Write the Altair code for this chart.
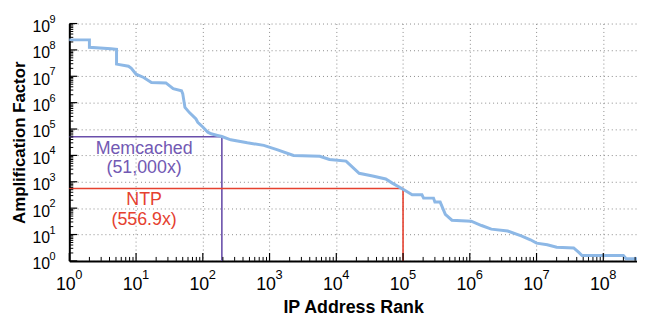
import altair as alt
import pandas as pd

# ---- data ----
rank = [1, 2.0, 2.0, 4.2, 5.1, 5.1, 7.7, 8.5, 10, 13, 17, 28, 36, 48, 50, 54, 63, 79,
        84, 100, 119, 133, 166, 193, 262, 464, 820, 1290, 2285, 5660, 7900, 14000,
        22000, 35000, 55000, 69000, 103000, 137000, 192000, 203000, 286000, 300000,
        360000, 430000, 540000, 1050000, 1500000, 2100000, 3700000, 5900000, 8100000,
        10000000, 14500000, 20000000, 36000000, 43000000, 48000000, 200000000,
        220000000, 320000000]
amp = [2.4e8, 2.4e8, 1.26e8, 1.1e8, 1.05e8, 2.9e7, 2.4e7, 2.0e7, 1.2e7, 9e6, 5.8e6,
       5.6e6, 3.4e6, 2.8e6, 2.2e6, 6.6e5, 4.2e5, 2.4e5, 1.8e5, 1.2e5, 7.6e4, 6.6e4,
       5.7e4, 5.2e4, 3.9e4, 3.0e4, 2.4e4, 1.66e4, 1.0e4, 9.3e3, 7.0e3, 6.1e3, 2.1e3,
       1.66e3, 1.28e3, 8.9e2, 5.0e2, 3.2e2, 3.2e2, 2.4e2, 2.4e2, 1.7e2, 1.7e2, 58,
       35, 32, 22, 16, 13.6, 8.9, 6.3, 4.7, 4.1, 3.3, 3.1, 2.1, 1.6, 1.6, 1.2, 1.2]

mem_x = [1, 193, 193]
mem_y = [51000, 51000, 1]
ntp_x = [1, 100000, 100000]
ntp_y = [556.9, 556.9, 1]

notes_text = ["Memcached\n(51,000x)", "NTP\n(556.9x)"]
notes_x = [13.2, 13.2]
notes_y = [51000, 556.9]
notes_color = ["#7259b3", "#e5412f"]

x_decades = [1, 10, 100, 1e3, 1e4, 1e5, 1e6, 1e7, 1e8]
x_exps = ["0", "1", "2", "3", "4", "5", "6", "7", "8"]
y_decades = [1, 10, 100, 1e3, 1e4, 1e5, 1e6, 1e7, 1e8, 1e9]
y_exps = ["0", "1", "2", "3", "4", "5", "6", "7", "8", "9"]
x_minor = [m * 10 ** k for k in range(0, 9) for m in range(2, 10) if m * 10 ** k <= 3.2e8]
y_minor = [m * 10 ** k for k in range(0, 9) for m in range(2, 10)]

W, H = 574, 240
FONT = "Liberation Sans"

xs = alt.Scale(type="log", domain=[1, 3.2e8], nice=False)
ys = alt.Scale(type="log", domain=[1, 1e9], nice=False)

curve = pd.DataFrame({"x": rank, "y": amp, "o": range(len(rank))})
mem = pd.DataFrame({"x": mem_x, "y": mem_y, "o": range(3)})
ntp = pd.DataFrame({"x": ntp_x, "y": ntp_y, "o": range(3)})
notes = pd.DataFrame({"x": notes_x, "y": notes_y, "t": notes_text, "c": notes_color})

x_axis = alt.Axis(values=x_decades, labelExpr="'10'", grid=True, gridDash=[1, 3],
                  gridColor="#8a8a8a", gridWidth=1, ticks=False, domainColor="black",
                  domainWidth=2, labelFontSize=18, labelFont=FONT, labelColor="black",
                  labelOffset=-4, labelPadding=15, labelFlush=False, labelOverlap=False,
                  title="IP Address Rank", titleFont=FONT, titleFontSize=18,
                  titleFontWeight="bold", titleColor="black", titleX=287, titleY=52,
                  titleAlign="center", titleBaseline="alphabetic")
y_axis = alt.Axis(values=y_decades, labelExpr="'10'", grid=True, gridDash=[1, 3],
                  gridColor="#8a8a8a", gridWidth=1, ticks=False, domainColor="black",
                  domainWidth=2, labelFontSize=16, labelFont=FONT, labelColor="black",
                  labelOffset=3, labelPadding=20, labelAlign="right", labelBaseline="middle",
                  labelFlush=False, labelOverlap=False,
                  title="Amplification Factor", titleFont=FONT, titleFontSize=17,
                  titleFontWeight="bold", titleColor="black", titleX=-50, titleY=120,
                  titleAngle=270, titleAlign="center", titleBaseline="middle")


def X(f):
    return alt.X(f, scale=xs, axis=x_axis)


def Y(f):
    return alt.Y(f, scale=ys, axis=y_axis)


mem_line = alt.Chart(mem).mark_line(color="#6a4fab", strokeWidth=1.6).encode(
    x=X("x:Q"), y=Y("y:Q"), order="o:Q")
ntp_line = alt.Chart(ntp).mark_line(color="#e5412f", strokeWidth=1.6).encode(
    x=X("x:Q"), y=Y("y:Q"), order="o:Q")

base = alt.Chart(curve).mark_line(color="#8db8e6", strokeWidth=3).encode(
    x=X("x:Q"), y=Y("y:Q"), order="o:Q")

note_text = alt.Chart(notes).mark_text(font=FONT, fontSize=18, align="center",
                                       baseline="top", dy=3, lineBreak="\n",
                                       lineHeight=20).encode(
    x=X("x:Q"), y=Y("y:Q"), text="t:N", color=alt.Color("c:N", scale=None))

xmaj = pd.DataFrame({"x": x_decades})
xmin = pd.DataFrame({"x": x_minor})
ymaj = pd.DataFrame({"y": y_decades})
ymin = pd.DataFrame({"y": y_minor})

xt_major = alt.Chart(xmaj).mark_rule(color="black", strokeWidth=1.2).encode(
    x=X("x:Q"), y=alt.value(H), y2=alt.value(H - 8))
xt_minor = alt.Chart(xmin).mark_rule(color="black", strokeWidth=1).encode(
    x=X("x:Q"), y=alt.value(H), y2=alt.value(H - 4))
yt_major = alt.Chart(ymaj).mark_rule(color="black", strokeWidth=1.2).encode(
    y=Y("y:Q"), x=alt.value(0), x2=alt.value(8))
yt_minor = alt.Chart(ymin).mark_rule(color="black", strokeWidth=1).encode(
    y=Y("y:Q"), x=alt.value(0), x2=alt.value(4))

xexp = pd.DataFrame({"x": x_decades, "e": x_exps})
yexp = pd.DataFrame({"y": y_decades, "e": y_exps})
x_exp = alt.Chart(xexp).mark_text(font=FONT, fontSize=13, align="left", baseline="top",
                                  dx=6, color="black").encode(
    x=X("x:Q"), y=alt.value(H + 8), text="e:N")
y_exp = alt.Chart(yexp).mark_text(font=FONT, fontSize=11, align="left", baseline="middle",
                                  dy=-4, color="black").encode(
    y=Y("y:Q"), x=alt.value(-20), text="e:N")

chart = alt.layer(mem_line, ntp_line, base, note_text, xt_major, xt_minor,
                  yt_major, yt_minor, x_exp, y_exp).properties(
    width=W, height=H,
    autosize=alt.AutoSizeParams(type="none"),
    padding={"left": 62, "top": 14, "right": 0, "bottom": 54},
).configure_view(stroke=None)

chart.save("out.html", embed_options={"renderer": "svg", "actions": False})
